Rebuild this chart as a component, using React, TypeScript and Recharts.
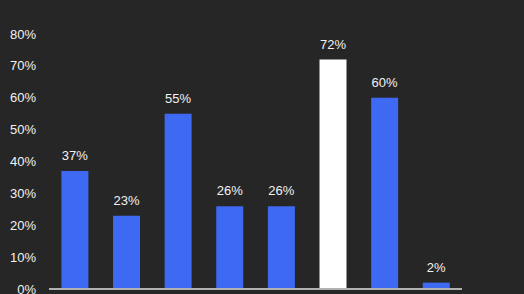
import { BarChart, Bar, XAxis, YAxis, Cell, LabelList } from 'recharts'

const categories = ['1', '2', '3', '4', '5', '6', '7', '8']
const shares = [37, 23, 55, 26, 26, 72, 60, 2]
const highlighted = [false, false, false, false, false, true, false, false]
const yTicks = [0, 10, 20, 30, 40, 50, 60, 70, 80]

const BLUE = '#3e69f2'
const BG = '#262626'

const data = categories.map((name, i) => ({ name, value: shares[i], hl: highlighted[i] }))

export default function App() {
  return (
    <div style={{ position: 'absolute', left: 0, top: 0, width: 524, height: 294, background: BG, overflow: 'hidden' }}>
      <BarChart
        width={524}
        height={294}
        data={data}
        margin={{ top: 34, right: 62, left: 0, bottom: 0 }}
        barCategoryGap="24%"
        style={{ overflow: 'visible' }}
      >
        <XAxis
          dataKey="name"
          tick={false}
          tickLine={false}
          height={5}
          axisLine={{ stroke: '#b0b0b0', strokeWidth: 2 }}
        />
        <YAxis
          domain={[0, 80]}
          ticks={yTicks}
          interval={0}
          width={49}
          axisLine={false}
          tickLine={false}
          tickMargin={7}
          tickFormatter={(v: number) => `${v}%`}
          tick={{ fill: '#f2f2f2', fontSize: 13, fontFamily: 'Liberation Sans, Arial, sans-serif' }}
        />
        <Bar dataKey="value" isAnimationActive={false}>
          {data.map((d) => (
            <Cell key={d.name} fill={d.hl ? '#ffffff' : BLUE} />
          ))}
          <LabelList
            dataKey="value"
            position="top"
            offset={11}
            formatter={(v: unknown) => `${v}%`}
            style={{ fill: '#f2f2f2', fontSize: 13, fontFamily: 'Liberation Sans, Arial, sans-serif' }}
          />
        </Bar>
      </BarChart>
    </div>
  )
}
